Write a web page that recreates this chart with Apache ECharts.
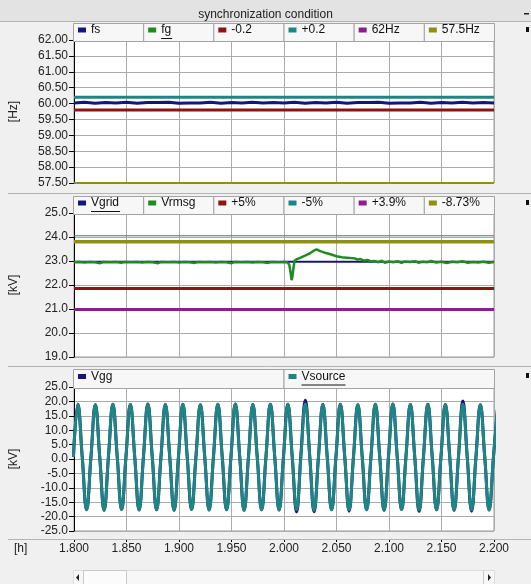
<!DOCTYPE html>
<html><head><meta charset="utf-8">
<script src="https://cdn.jsdelivr.net/npm/echarts@6/dist/echarts.min.js"></script>
<style>html,body{margin:0;padding:0;background:#f0f0f0}#c{width:531px;height:584px}</style>
</head><body><div id="c"></div>
<script>
// ---------------- data ----------------
const chartTitle = 'synchronization condition';
const xMin = 1.8, xMax = 2.2, xInterval = 0.05;

// panel 1 : frequency
const freqNames = ['fs', 'fg', '-0.2', '+0.2', '62Hz', '57.5Hz'];
const fsTimes = [1.80,1.81,1.82,1.83,1.84,1.85,1.86,1.87,1.88,1.89,1.90,1.91,1.92,1.93,1.94,1.95,1.96,1.97,1.98,1.99,2.00,2.01,2.02,2.03,2.04,2.05,2.06,2.07,2.08,2.09,2.10,2.11,2.12,2.13,2.14,2.15,2.16,2.17,2.18,2.19,2.20];
const fsValues = [60.02,60.04,60.01,60.03,60.02,60.04,60.01,60.03,60.03,60.04,60.01,60.02,60.02,60.04,60.01,60.03,60.02,60.04,60.02,60.03,60.02,60.04,60.01,60.03,60.02,60.04,60.01,60.03,60.03,60.04,60.01,60.02,60.02,60.04,60.01,60.03,60.02,60.04,60.02,60.03,60.02];
const fgValues = [];
const freqRefLevels = { '-0.2': 59.8, '+0.2': 60.2, '62Hz': 62.0, '57.5Hz': 57.5 };

// panel 2 : voltage rms
const voltNames = ['Vgrid', 'Vrmsg', '+5%', '-5%', '+3.9%', '-8.73%'];
const vgridTimes = [1.80, 2.20];
const vgridValues = [22.97, 22.97];
const vrmsgTimes = [1.800,1.805,1.810,1.815,1.820,1.825,1.828,1.835,1.840,1.845,1.848,1.855,1.860,1.865,1.870,1.875,1.880,1.883,1.890,1.895,1.900,1.905,1.910,1.915,1.918,1.925,1.930,1.935,1.940,1.945,1.950,1.953,1.960,1.965,1.970,1.975,1.980,1.985,1.988,1.995,2.000,2.003,2.005,2.0065,2.0072,2.008,2.009,2.010,2.012,2.015,2.020,2.025,2.028,2.031,2.034,2.040,2.045,2.050,2.055,2.060,2.065,2.068,2.070,2.073,2.076,2.080,2.083,2.086,2.090,2.093,2.096,2.100,2.104,2.108,2.112,2.115,2.120,2.125,2.128,2.132,2.137,2.140,2.145,2.150,2.155,2.160,2.165,2.170,2.175,2.180,2.185,2.190,2.195,2.200];
const vrmsgValues = [22.95,22.96,22.94,22.96,22.95,22.91,22.96,22.95,22.96,22.93,22.96,22.95,22.96,22.94,22.96,22.95,22.91,22.96,22.95,22.96,22.94,22.96,22.95,22.92,22.96,22.95,22.96,22.94,22.96,22.95,22.91,22.96,22.95,22.96,22.94,22.96,22.95,22.92,22.96,22.95,22.96,22.95,22.85,22.45,22.20,22.35,22.70,23.00,23.08,23.12,23.22,23.33,23.42,23.48,23.42,23.33,23.27,23.20,23.16,23.14,23.12,23.10,23.06,23.08,23.02,23.04,22.98,23.00,22.95,23.01,22.93,22.98,22.95,22.99,22.92,22.98,22.96,22.99,22.93,22.97,22.95,23.00,22.94,22.97,22.92,22.97,22.95,22.99,22.93,22.96,22.94,22.97,22.93,22.96];
const voltRefLevels = { '+5%': 21.85, '-5%': 24.05, '+3.9%': 20.98, '-8.73%': 23.8 };

// panel 3 : instantaneous voltages, sampled every quarter cycle (60 Hz)
const waveNames = ['Vgg', 'Vsource'];
const waveStart = 1.7995, waveStep = 1 / 240;
const vsourceValues = [
  0.8,19.0,0.7,-17.6,  0.8,18.8,0.7,-17.8,  0.9,19.0,0.8,-17.5,  0.8,18.9,0.7,-17.7,
  0.8,19.1,0.8,-17.6,  0.7,18.9,0.8,-17.8,  0.8,19.0,0.7,-17.5,  0.9,18.8,0.8,-17.7,
  0.8,19.0,0.7,-17.6,  0.8,19.1,0.8,-17.8,  0.7,18.9,0.7,-17.6,  0.8,19.0,0.8,-17.7,
  0.8,19.0,0.7,-17.5,  0.9,19.1,0.8,-17.8,  0.8,18.9,0.7,-17.6,  0.8,19.0,0.8,-17.7,
  0.7,18.8,0.7,-17.6,  0.8,19.0,0.8,-17.8,  0.8,19.1,0.7,-17.5,  0.9,18.9,0.8,-17.7,
  0.8,19.0,0.7,-17.6,  0.8,18.9,0.8,-17.8,  0.7,19.0,0.7,-17.6,  0.8,18.8,0.8,-17.7,
  0.8,19.0];
const vggValues = [
  0.8,19.0,0.7,-17.6,  0.8,18.8,0.7,-17.8,  0.9,19.0,0.8,-17.5,  0.8,18.9,0.7,-17.7,
  0.8,19.1,0.8,-17.6,  0.7,18.9,0.8,-17.8,  0.8,19.0,0.7,-17.5,  0.9,18.8,0.8,-17.7,
  0.8,19.0,0.7,-17.6,  0.8,19.1,0.8,-17.8,  0.7,18.9,0.7,-17.6,  0.8,19.0,0.8,-17.7,
  0.8,19.0,0.7,-18.4,  2.0,20.4,1.2,-18.3,  0.8,18.9,0.7,-17.6,  0.8,19.0,0.8,-18.1,
  0.7,18.8,0.7,-17.6,  0.8,19.0,0.8,-17.8,  0.8,19.1,0.7,-17.5,  0.9,18.9,0.8,-18.2,
  0.8,19.0,0.7,-17.6,  0.8,18.9,0.8,-17.8,  0.7,20.1,0.7,-18.1,  0.8,18.8,0.8,-17.7,
  0.8,19.0];

// ---------------- styles ----------------
const C = { navy:'#16167a', green:'#208c20', red:'#8c1414', teal:'#1e8585', purple:'#8c1e8c', olive:'#8f8f12' };
const freqColors = { 'fs':C.navy, 'fg':C.green, '-0.2':C.red, '+0.2':C.teal, '62Hz':C.purple, '57.5Hz':C.olive };
const voltColors = { 'Vgrid':C.navy, 'Vrmsg':C.green, '+5%':C.red, '-5%':C.teal, '+3.9%':C.purple, '-8.73%':C.olive };
const waveColors = { 'Vgg':C.navy, 'Vsource':C.teal };
const FONT = 'Liberation Sans, Arial, sans-serif';

const plotLeft = 73, plotWidth = 421;
const grids = [
  { left: plotLeft, top: 40, width: plotWidth, height: 143 },
  { left: plotLeft, top: 213, width: plotWidth, height: 144 },
  { left: plotLeft, top: 387, width: plotWidth, height: 144 }
];
const legendRows = [
  { top: 23, bottom: 41, names: freqNames, colors: freqColors, underline: { 'fg': 11 } },
  { top: 196, bottom: 214, names: voltNames, colors: voltColors, underline: { 'Vgrid': 29 } },
  { top: 369, bottom: 388, names: waveNames, colors: waveColors, underline: { 'Vsource': 44 } }
];

const pairs = (ts, vs) => ts.map((t, i) => [t, vs[i]]);
const levelLine = v => [[xMin, v], [xMax, v]];
const wavePairs = vs => vs.map((v, i) => [waveStart + i * waveStep, v]);

function lineSeries(name, data, idx, color, width, extra) {
  return Object.assign({
    name, type: 'line', data, xAxisIndex: idx, yAxisIndex: idx,
    showSymbol: false, symbol: 'none', color,
    lineStyle: { color, width }, animation: false, z: 2
  }, extra || {});
}

const series = [
  lineSeries('fs', pairs(fsTimes, fsValues), 0, C.navy, 3),
  lineSeries('fg', fgValues, 0, C.green, 2.5),
  lineSeries('-0.2', levelLine(freqRefLevels['-0.2']), 0, C.red, 3),
  lineSeries('+0.2', levelLine(freqRefLevels['+0.2']), 0, C.teal, 3),
  lineSeries('62Hz', levelLine(freqRefLevels['62Hz']), 0, C.purple, 2),
  lineSeries('57.5Hz', levelLine(freqRefLevels['57.5Hz']), 0, C.olive, 2),

  lineSeries('Vgrid', pairs(vgridTimes, vgridValues), 1, C.navy, 2),
  lineSeries('Vrmsg', pairs(vrmsgTimes, vrmsgValues), 1, C.green, 2.5),
  lineSeries('+5%', levelLine(voltRefLevels['+5%']), 1, C.red, 3),
  lineSeries('-5%', levelLine(voltRefLevels['-5%']), 1, C.teal, 1),
  lineSeries('+3.9%', levelLine(voltRefLevels['+3.9%']), 1, C.purple, 3),
  lineSeries('-8.73%', levelLine(voltRefLevels['-8.73%']), 1, C.olive, 3.5),

  lineSeries('Vgg', wavePairs(vggValues), 2, C.navy, 3, { smooth: 0.45 }),
  lineSeries('Vsource', wavePairs(vsourceValues), 2, C.teal, 3, { smooth: 0.45 })
];

const xAxes = grids.map((g, i) => ({
  type: 'value', gridIndex: i, min: xMin, max: xMax, interval: xInterval,
  offset: i === 2 ? 8 : 0,
  axisLine: { show: i === 2, onZero: false, lineStyle: { color: '#000', width: 1 } },
  axisTick: { show: i === 2, length: 3, lineStyle: { color: '#000' } },
  axisLabel: { show: i === 2, margin: 4, fontSize: 12, fontFamily: FONT, color: '#222',
               formatter: v => v.toFixed(3) },
  splitLine: { show: true, lineStyle: { color: '#ababab', width: 1 } }
}));

const yCfg = [
  { min: 57.5, max: 62, interval: 0.5, dec: 2, name: '[Hz]' },
  { min: 19, max: 25, interval: 1, dec: 1, name: '[kV]' },
  { min: -25, max: 25, interval: 5, dec: 1, name: '[kV]' }
];
const yAxes = yCfg.map((c, i) => ({
  type: 'value', gridIndex: i, min: c.min, max: c.max, interval: c.interval,
  name: c.name, nameLocation: 'middle', nameGap: 54, nameRotate: 90,
  nameTextStyle: { fontSize: 12, fontFamily: FONT, color: '#222' },
  axisLine: { show: true, onZero: false, lineStyle: { color: '#000', width: 1 } },
  axisTick: { show: true, length: 5, lineStyle: { color: '#000' } },
  axisLabel: { margin: 6, fontSize: 12, fontFamily: FONT, color: '#222',
               formatter: v => v.toFixed(c.dec) },
  splitLine: { show: true, lineStyle: { color: '#ababab', width: 1 } }
}));

// legends: one small legend per cell, boxed by graphic rectangles
const legends = [];
const graphics = [
  { type: 'rect', shape: { x: 0, y: 0, width: 531, height: 21 }, style: { fill: '#e3e3e3' }, z: 1 },
  { type: 'line', shape: { x1: 0, y1: 21.5, x2: 531, y2: 21.5 }, style: { stroke: '#b0b0b0' }, z: 1 },
  { type: 'line', shape: { x1: 8, y1: 193.5, x2: 531, y2: 193.5 }, style: { stroke: '#b4b4b4' }, z: 1 },
  { type: 'line', shape: { x1: 8, y1: 366.5, x2: 531, y2: 366.5 }, style: { stroke: '#b4b4b4' }, z: 1 },
  { type: 'line', shape: { x1: 8, y1: 539.5, x2: 531, y2: 539.5 }, style: { stroke: '#b4b4b4' }, z: 1 },
  { type: 'rect', shape: { x: 524, y: 13, width: 5, height: 1.5 }, style: { fill: '#222' }, z: 1 },
  { type: 'rect', shape: { x: 526, y: 27, width: 3, height: 5 }, style: { fill: '#111' }, z: 1 },
  { type: 'rect', shape: { x: 526, y: 200, width: 3, height: 5 }, style: { fill: '#111' }, z: 1 },
  { type: 'rect', shape: { x: 526, y: 373, width: 3, height: 5 }, style: { fill: '#111' }, z: 1 },
  { type: 'text', style: { x: 14, y: 549, text: '[h]', fill: '#222', font: '12px ' + FONT, textVerticalAlign: 'middle' }, z: 1 },
  // scrollbar
  { type: 'rect', shape: { x: 73.5, y: 570.5, width: 421, height: 14 }, style: { fill: '#f7f7f7', stroke: '#dcdcdc' }, z: 1 },
  { type: 'rect', shape: { x: 83.5, y: 570.5, width: 43, height: 14 }, style: { fill: '#fbfbfb', stroke: '#c8c8c8' }, z: 1 },
  { type: 'polygon', shape: { points: [[79, 574], [79, 581], [76, 577.5]] }, style: { fill: '#222' }, z: 1 },
  { type: 'line', shape: { x1: 483.5, y1: 571, x2: 483.5, y2: 584 }, style: { stroke: '#c8c8c8' }, z: 1 },
  { type: 'polygon', shape: { points: [[488, 574], [488, 581], [491, 577.5]] }, style: { fill: '#222' }, z: 1 }
];
legendRows.forEach(row => {
  const n = row.names.length, w = plotWidth / n;
  const cy = (row.top + row.bottom) / 2 - 1;
  row.names.forEach((name, k) => {
    const cx = plotLeft + k * w;
    graphics.push({ type: 'rect', shape: { x: cx + 0.5, y: row.top + 0.5, width: w, height: row.bottom - row.top },
      style: { fill: '#f7f7f7', stroke: '#a3a3a3', lineWidth: 1 }, z: 10 });
    legends.push({
      data: [name], left: cx + 5, top: cy - 7, padding: 0, itemGap: 0,
      itemWidth: 8, itemHeight: 5, icon: 'rect', z: 20,
      textStyle: { fontSize: 12, fontFamily: FONT, color: '#111' }
    });
    if (row.underline[name]) {
      graphics.push({ type: 'line', shape: { x1: cx + 18, y1: cy + 7.5, x2: cx + 18 + row.underline[name], y2: cy + 7.5 },
        style: { stroke: '#111', lineWidth: 1 }, z: 21 });
    }
  });
});

const chart = echarts.init(document.getElementById('c'), null, { renderer: 'canvas' });
chart.setOption({
  backgroundColor: '#f0f0f0',
  animation: false,
  title: { text: chartTitle, left: 'center', top: 4,
           textStyle: { fontSize: 12, fontWeight: 'normal', fontFamily: FONT, color: '#222' } },
  grid: grids.map(g => Object.assign({ show: true, backgroundColor: '#ffffff', borderColor: '#9a9a9a', borderWidth: 1 }, g)),
  xAxis: xAxes,
  yAxis: yAxes,
  legend: legends,
  graphic: graphics,
  series
});
</script></body></html>
